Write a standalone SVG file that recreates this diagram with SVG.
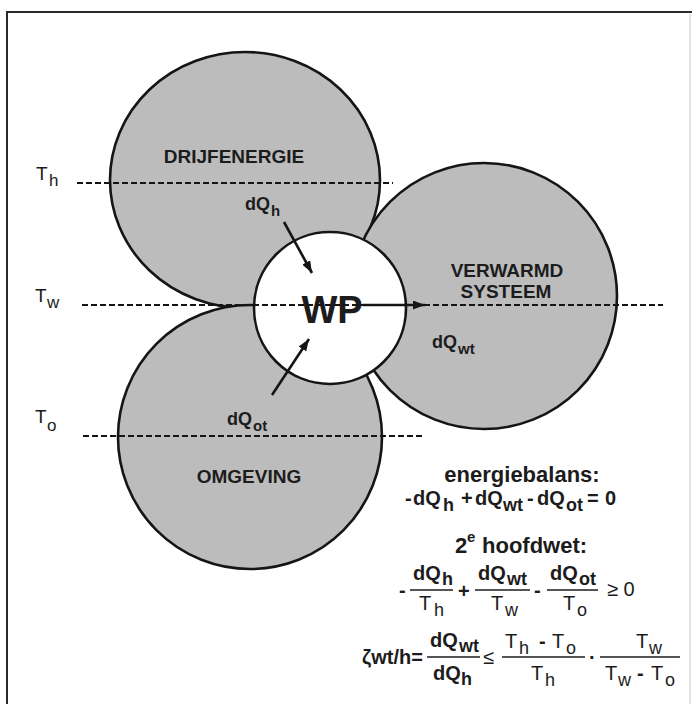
<svg xmlns="http://www.w3.org/2000/svg" width="692" height="704" viewBox="0 0 692 704">
<defs>
<style>
.frame{stroke:#2a2a2a;stroke-width:2;fill:none}
.zone{fill:#bcbcbc;stroke:#151515;stroke-width:2.6}
.wp{fill:#ffffff;stroke:#151515;stroke-width:2.6}
.lbl{font-family:"Liberation Sans",Arial,sans-serif;font-weight:bold;font-size:19px;fill:#1c1c1c}
.big{font-family:"Liberation Sans",Arial,sans-serif;font-weight:bold;font-size:38px;fill:#1c1c1c}
.t{font-family:"Liberation Sans",Arial,sans-serif;font-size:19px;fill:#1c1c1c}
.ts{font-family:"Liberation Sans",Arial,sans-serif;font-size:17px;fill:#1c1c1c}
.dq{font-family:"Liberation Sans",Arial,sans-serif;font-weight:bold;font-size:18px;fill:#1c1c1c}
.dqs{font-family:"Liberation Sans",Arial,sans-serif;font-weight:bold;font-size:15px;fill:#1c1c1c}
.eq{font-family:"Liberation Sans",Arial,sans-serif;font-weight:bold;font-size:20px;fill:#1c1c1c}
.eqs{font-family:"Liberation Sans",Arial,sans-serif;font-weight:bold;font-size:18px;fill:#1c1c1c}
.eqt{font-family:"Liberation Sans",Arial,sans-serif;font-size:20px;fill:#1c1c1c}
.eqts{font-family:"Liberation Sans",Arial,sans-serif;font-size:18px;fill:#1c1c1c}
.hd{font-family:"Liberation Sans",Arial,sans-serif;font-weight:bold;font-size:22px;fill:#1c1c1c}
.bar{stroke:#1c1c1c;stroke-width:1.6}
.dash{stroke:#151515;stroke-width:2.2;stroke-dasharray:6 3;fill:none}
.arr{stroke:#151515;stroke-width:2.6;fill:none;marker-end:url(#ah)}
</style>
<marker id="ah" viewBox="0 0 12 9" refX="12" refY="4.5" markerWidth="12" markerHeight="9" orient="auto" markerUnits="userSpaceOnUse"><path d="M0,0 L12,4.5 L0,9 z" fill="#151515"/></marker>
</defs>
<rect width="692" height="704" fill="#ffffff"/>
<g id="frame">
<path class="frame" d="M7,704 L7,12 L692,12"/>
<line x1="690" y1="14" x2="690" y2="704" stroke="#dddddd" stroke-width="1.5"/>
</g>
<g id="drijfenergie">
<ellipse class="zone" cx="245" cy="180" rx="135" ry="128"/>
<text class="lbl" x="234" y="163" text-anchor="middle">DRIJFENERGIE</text>
</g>
<g id="omgeving">
<circle class="zone" cx="250" cy="437" r="132"/>
<text class="lbl" x="249" y="483" text-anchor="middle">OMGEVING</text>
</g>
<g id="verwarmd-systeem">
<circle class="zone" cx="484" cy="296" r="133"/>
<text class="lbl" x="507" y="277" text-anchor="middle">VERWARMD</text>
<text class="lbl" x="506" y="298" text-anchor="middle">SYSTEEM</text>
</g>
<g id="wp">
<circle class="wp" cx="330" cy="308" r="76"/>
<text class="big" x="332" y="323" text-anchor="middle">WP</text>
</g>
<g id="connectors">
<line class="dash" x1="77" y1="183" x2="393" y2="183"/>
<line class="dash" x1="82" y1="305" x2="663" y2="305"/>
<line class="dash" x1="83" y1="436" x2="423" y2="436"/>
<line class="arr" x1="363" y1="305" x2="425" y2="305"/>
<line class="arr" x1="284" y1="222" x2="312" y2="273"/>
<line class="arr" x1="272" y1="395" x2="309" y2="339"/>
</g>
<g id="flow-labels">
<text><tspan class="dq" x="245" y="210">dQ</tspan><tspan class="dqs" x="271" y="216">h</tspan></text>
<text><tspan class="dq" x="432" y="348">dQ</tspan><tspan class="dqs" x="458" y="354">wt</tspan></text>
<text><tspan class="dq" x="227" y="425">dQ</tspan><tspan class="dqs" x="253" y="431">ot</tspan></text>
</g>
<g id="temperatures">
<text><tspan class="t" x="36" y="180">T</tspan><tspan class="ts" x="49" y="186">h</tspan></text>
<text><tspan class="t" x="35" y="302">T</tspan><tspan class="ts" x="47" y="308">w</tspan></text>
<text><tspan class="t" x="35" y="423">T</tspan><tspan class="ts" x="47" y="431">o</tspan></text>
</g>
<g id="equations">
<text class="hd" x="522" y="482" text-anchor="middle">energiebalans:</text>
<text><tspan class="eq" x="405" y="505">-</tspan><tspan class="eq" x="413" y="505">dQ</tspan><tspan class="eqs" x="443" y="511">h</tspan><tspan class="eq" x="461" y="505">+</tspan><tspan class="eq" x="475" y="505">dQ</tspan><tspan class="eqs" x="503" y="511">wt</tspan><tspan class="eq" x="527" y="505">-</tspan><tspan class="eq" x="537" y="505">dQ</tspan><tspan class="eqs" x="566" y="511">ot</tspan><tspan class="eq" x="587" y="505">=</tspan><tspan class="eq" x="605" y="505">0</tspan></text>
<text><tspan class="hd" x="455" y="553">2</tspan><tspan class="eqs" x="467" y="542" style="font-size:15px">e</tspan><tspan class="hd" x="482" y="553">hoofdwet:</tspan></text>
<text class="eq" x="399" y="597">-</text>
<text><tspan class="eq" x="413" y="580">dQ</tspan><tspan class="eqs" x="442" y="585">h</tspan></text>
<line class="bar" x1="410" y1="590" x2="453" y2="590"/>
<text><tspan class="eqt" x="419" y="610">T</tspan><tspan class="eqts" x="434" y="616">h</tspan></text>
<text class="eq" x="458" y="598">+</text>
<text><tspan class="eq" x="478" y="580">dQ</tspan><tspan class="eqs" x="507" y="585">wt</tspan></text>
<line class="bar" x1="475" y1="590" x2="530" y2="590"/>
<text><tspan class="eqt" x="491" y="610">T</tspan><tspan class="eqts" x="505" y="616">w</tspan></text>
<text class="eq" x="534" y="597">-</text>
<text><tspan class="eq" x="550" y="580">dQ</tspan><tspan class="eqs" x="579" y="585">ot</tspan></text>
<line class="bar" x1="547" y1="590" x2="598" y2="590"/>
<text><tspan class="eqt" x="563" y="610">T</tspan><tspan class="eqts" x="577" y="616">o</tspan></text>
<text class="eqt" x="607" y="596">≥ 0</text>
<text class="eq" x="362" y="664">ζwt/h=</text>
<text><tspan class="eq" x="430" y="647">dQ</tspan><tspan class="eqs" x="459" y="652">wt</tspan></text>
<line class="bar" x1="427" y1="657" x2="480" y2="657"/>
<text><tspan class="eq" x="433" y="680">dQ</tspan><tspan class="eqs" x="461" y="685">h</tspan></text>
<text class="eqt" x="483" y="664">≤</text>
<text><tspan class="eqt" x="505" y="648">T</tspan><tspan class="eqts" x="519" y="654">h</tspan><tspan class="eq" x="539" y="648">-</tspan><tspan class="eqt" x="552" y="648">T</tspan><tspan class="eqts" x="566" y="654">o</tspan></text>
<line class="bar" x1="502" y1="657" x2="585" y2="657"/>
<text><tspan class="eqt" x="531" y="680">T</tspan><tspan class="eqts" x="545" y="686">h</tspan></text>
<text class="eq" x="589" y="664">·</text>
<text><tspan class="eqt" x="636" y="648">T</tspan><tspan class="eqts" x="649" y="654">w</tspan></text>
<line class="bar" x1="600" y1="657" x2="680" y2="657"/>
<text><tspan class="eqt" x="605" y="680">T</tspan><tspan class="eqts" x="618" y="686">w</tspan><tspan class="eq" x="637" y="680">-</tspan><tspan class="eqt" x="651" y="680">T</tspan><tspan class="eqts" x="665" y="686">o</tspan></text>
</g>
</svg>
